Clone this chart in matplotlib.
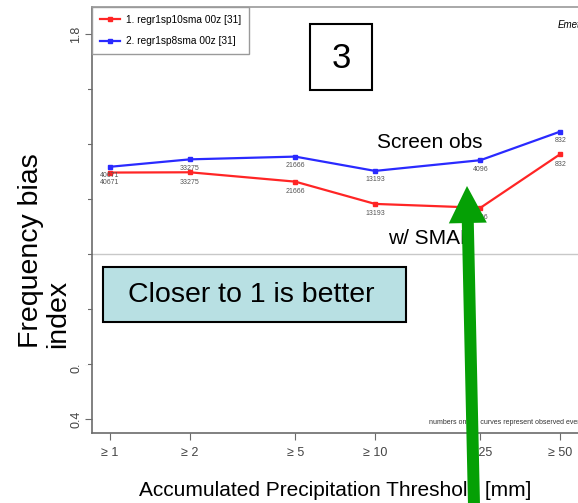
import matplotlib

matplotlib.use("Agg")
import matplotlib.patches as mpatches
import matplotlib.pyplot as plt
from matplotlib.ticker import NullLocator

W, H = 578, 503
SANS = ["Liberation Sans", "DejaVu Sans"]
RED = "#ff2525"
BLUE = "#2a2aff"
GREEN = "#05a005"
GREY = "#6b6b6b"

thresholds = [1, 2, 5, 10, 25, 50]
tick_labels = ["≥ 1", "≥ 2", "≥ 5", "≥ 10", "≥ 25", "≥ 50"]
bias_sma10 = [1.296, 1.297, 1.263, 1.182, 1.168, 1.363]
bias_sma8 = [1.317, 1.344, 1.354, 1.302, 1.341, 1.445]
obs_events = [40671, 33275, 21666, 13193, 4096, 832]
series_names = ["1. regr1sp10sma 00z [31]", "2. regr1sp8sma 00z [31]"]
yticks = [0.4, 0.6, 0.8, 1.0, 1.2, 1.4, 1.6, 1.8]
ytick_text = ["0.4", "0.6", "", "", "", "", "", "1.8"]


def px(x, y):
    """pixel position (from top-left) -> figure fraction"""
    return x / W, 1 - y / H


fig = plt.figure(figsize=(W / 100, H / 100), dpi=100)
inch = fig.dpi_scale_trans  # 1 inch == 100 px here

l, b = px(92, 433)
_, t = px(0, 7)
ax = fig.add_axes([l, b, (640 - 92) / W, t - b])
ax.set_xscale("log")
ax.set_xlim(0.855, 100)
ax.set_ylim(0.349, 1.898)

# reference line at bias = 1
ax.axhline(1.0, color="#c8c8c8", lw=1.0, zorder=1)

for vals, color, name, dy in [(bias_sma10, RED, series_names[0], -10),
                              (bias_sma8, BLUE, series_names[1], -9)]:
    ax.plot(thresholds, vals, color=color, lw=1.6, marker="s", ms=3,
            label=name, zorder=3)
    for x, v, n in zip(thresholds, vals, obs_events):
        ax.annotate(str(n), (x, v), xytext=(0, dy), textcoords="offset pixels",
                    ha="center", va="center", fontsize=5, color="#555555",
                    family=SANS, zorder=4)

ax.set_xticks(thresholds)
ax.set_xticklabels(tick_labels, family=SANS, fontsize=9, color="#444444")
ax.xaxis.set_minor_locator(NullLocator())
ax.set_yticks(yticks)
ax.set_yticklabels(ytick_text, rotation=90, va="center", family=SANS,
                   fontsize=9, color="#444444")
ax.tick_params(axis="both", direction="out", length=5, color=GREY)
ax.tick_params(axis="y", pad=2)
ax.tick_params(axis="x", pad=5)
for s in ax.spines.values():
    s.set_color(GREY)
    s.set_linewidth(1.2)
ax.spines["top"].set_color("#9a9a9a")

leg = ax.legend(loc="upper left", bbox_to_anchor=(0, 1), borderaxespad=0,
                fancybox=False, edgecolor="#9a9a9a", framealpha=1,
                prop={"family": SANS, "size": 7.3}, handlelength=2.0,
                handletextpad=0.6, borderpad=0.75, labelspacing=1.15)
leg.get_frame().set_linewidth(1.0)

fig.text(*px(429, 422), "numbers on the curves represent observed events",
         fontsize=5, family=SANS, color="#333333", va="center")
fig.text(*px(558, 25), "Emet", fontsize=7, style="italic", family=SANS,
         va="center")

# white slide text box over the y tick labels
fig.patches.append(mpatches.Rectangle((0, (H - 365) / 100), 0.88,
                                      (365 - 45) / 100, transform=inch,
                                      facecolor="white", edgecolor="none",
                                      zorder=5))
fig.text(*px(45, 348), "Frequency bias\nindex", rotation=90, ha="center",
         va="bottom", multialignment="left", fontsize=20.5, family=SANS,
         linespacing=1.05, zorder=6)

fig.patches.append(mpatches.Rectangle((3.10, (H - 90) / 100), 0.62, 0.66,
                                      transform=inch, facecolor="white",
                                      edgecolor="black", lw=1.5, zorder=5))
fig.text(*px(341, 58), "3", ha="center", va="center", fontsize=25,
         family=SANS, zorder=6)

fig.patches.append(mpatches.Rectangle((1.03, (H - 322) / 100), 3.03, 0.55,
                                      transform=inch, facecolor="#b8e0e3",
                                      edgecolor="black", lw=1.5, zorder=5))
fig.text(*px(251, 295), "Closer to 1 is better", ha="center", va="center",
         fontsize=20.5, family=SANS, zorder=6)

fig.text(*px(430, 143), "Screen obs", ha="center", va="center", fontsize=15,
         family=SANS, zorder=6)
fig.text(*px(388, 238), "w/ SMAP", ha="left", va="center", fontsize=15,
         family=SANS, zorder=6)
fig.text(*px(335, 490), "Accumulated Precipitation Threshold [mm]",
         ha="center", va="center", fontsize=15, family=SANS, zorder=6)

# green arrow drawn over the chart, pointing up at the curves
arrow = mpatches.FancyArrow(4.74, (H - 505) / 100, -0.07, (505 - 186) / 100,
                            width=0.12, head_width=0.38, head_length=0.37,
                            length_includes_head=True, transform=inch,
                            color=GREEN, lw=0, zorder=7)
fig.patches.append(arrow)

fig.savefig("out.png", dpi=100)
